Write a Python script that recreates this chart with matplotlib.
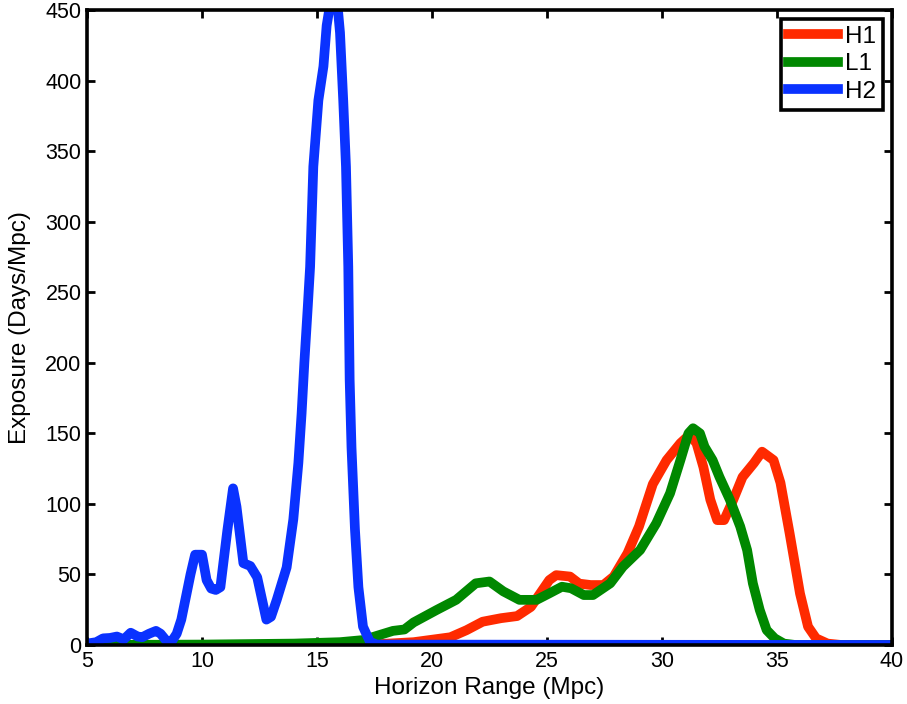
import matplotlib
matplotlib.use("Agg")
import matplotlib.pyplot as plt

plt.rcParams['font.family'] = ['Liberation Sans', 'DejaVu Sans']

# H1 (red)
h1_x = [5.0, 17.0, 19.2, 20.8, 21.5, 22.2, 23.0, 23.7, 24.3, 24.7, 25.1, 25.4, 26.0, 26.4,
        26.9, 27.45, 27.9, 28.5, 29.0, 29.6, 30.2, 30.8, 31.2, 31.5, 31.8, 32.1, 32.4, 32.7,
        33.1, 33.5, 34.0, 34.35, 34.85, 35.15, 35.55, 36.0, 36.35, 36.7, 37.2, 37.8, 40.0]
h1_y = [0, 0, 2, 5.5, 10.5, 16.5, 19, 20.5, 27, 36.5, 46, 49.5, 48.5, 43.5,
        42.5, 42.5, 48.5, 65, 84, 114, 131, 143, 149, 143, 126, 103, 88.5, 88.5,
        103, 119, 129, 137, 131, 115, 79, 36.5, 13, 4.7, 1, 0, 0]

# L1 (green)
l1_x = [5.0, 10.0, 14.0, 16.0, 17.0, 17.7, 18.3, 18.8, 19.2, 20.2, 21.05, 21.9, 22.5, 23.1,
        23.8, 24.55, 25.1, 25.65, 26.05, 26.6, 27.0, 27.75, 28.3, 29.05, 29.75, 30.35, 30.8,
        31.15, 31.35, 31.65, 31.85, 32.2, 32.5, 32.95, 33.4, 33.7, 33.95, 34.25, 34.55, 34.9,
        35.3, 35.8, 40.0]
l1_y = [0, 0.3, 1, 2, 3.5, 7, 10, 11, 16, 24.8, 32, 43.7, 45, 38,
        32, 32, 36.6, 41.3, 40.2, 35.4, 35.4, 43.7, 55.5, 67.3, 86.2, 107.5, 131,
        150, 153.6, 150, 140.5, 131, 119, 103, 84, 67.3, 43.7, 24.8, 10.6, 4.7,
        1, 0, 0]

# H2 (blue)
h2_x = [5.0, 5.4, 5.7, 6.0, 6.3, 6.6, 6.9, 7.2, 7.4, 7.7, 8.0, 8.2, 8.5, 8.7, 8.9, 9.1,
        9.3, 9.5, 9.7, 10.0, 10.2, 10.4, 10.6, 10.8, 11.1, 11.35, 11.5, 11.8, 12.1, 12.4,
        12.8, 13.0, 13.25, 13.68, 13.97, 14.19, 14.33, 14.45, 14.6, 14.7, 14.84, 15.06,
        15.28, 15.42, 15.55, 15.75, 15.9, 16.0, 16.14, 16.26, 16.36, 16.42, 16.5, 16.65,
        16.8, 17.0, 17.3, 17.6, 40.0]
h2_y = [1, 2, 4.7, 5, 6, 4, 8.7, 6, 5.5, 8, 10, 8, 2, 3, 8, 18,
        34, 50, 64, 64, 46, 40, 39, 41, 81, 111, 98, 58, 56, 48,
        18, 20, 32, 55, 89, 129, 164, 200, 240, 268, 339, 386,
        410, 439, 452, 458, 452, 434, 386, 339, 268, 188, 140, 82,
        41, 13, 2.3, 0.3, 0]

x_ticks = [5, 10, 15, 20, 25, 30, 35, 40]
y_ticks = [0, 50, 100, 150, 200, 250, 300, 350, 400, 450]

fig = plt.figure(figsize=(9.07, 7.04), dpi=100)
ax = fig.add_axes([87/907, 1-645/704, (892-87)/907, (645-10)/704])

lw = 7
ax.plot(h1_x, h1_y, color='#ff2a00', lw=lw, label='H1', solid_joinstyle='round')
ax.plot(l1_x, l1_y, color='#008800', lw=lw, label='L1', solid_joinstyle='round')
ax.plot(h2_x, h2_y, color='#0a32ff', lw=lw, label='H2', solid_joinstyle='round')

ax.set_xlim(5, 40)
ax.set_ylim(0, 450)
ax.set_xticks(x_ticks)
ax.set_yticks(y_ticks)
ax.tick_params(direction='in', length=6, width=2, top=True, right=True,
               labelsize=15.5, pad=4)
for s in ax.spines.values():
    s.set_linewidth(2.6)

ax.set_xlabel('Horizon Range (Mpc)', fontsize=17.5, labelpad=4)
ax.set_ylabel('Exposure (Days/Mpc)', fontsize=17.5, labelpad=10)

leg = ax.legend(loc='upper right', fontsize=17.5, frameon=True, fancybox=False,
                handlelength=2.05, handletextpad=0.3, borderpad=0.3,
                labelspacing=0.22, borderaxespad=0.35)
leg.get_frame().set_edgecolor('black')
leg.get_frame().set_linewidth(2.6)
leg.get_frame().set_alpha(1)

fig.savefig('out.png', dpi=100)
